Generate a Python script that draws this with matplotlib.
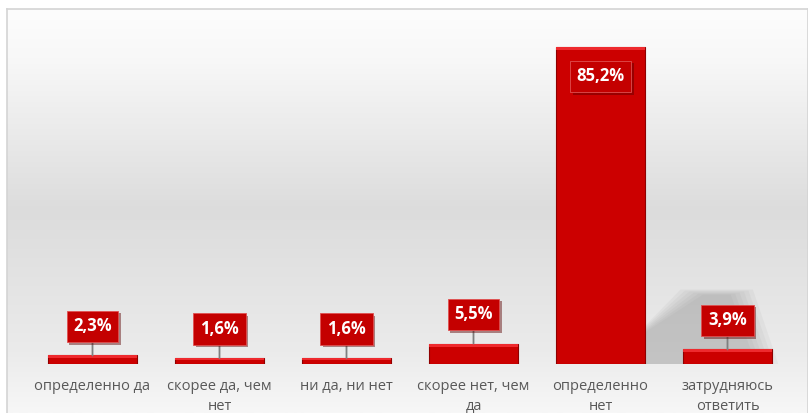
import numpy as np
import matplotlib
matplotlib.use("Agg")
import matplotlib.pyplot as plt
from matplotlib.colors import LinearSegmentedColormap
from matplotlib.patches import Polygon
import matplotlib.patheffects as pe

categories = ["определенно да", "скорее да, чем\nнет", "ни да, ни нет",
              "скорее нет, чем\nда", "определенно\nнет", "затрудняюсь\nответить"]
values = [2.3, 1.6, 1.6, 5.5, 85.2, 3.9]
labels = ["2,3%", "1,6%", "1,6%", "5,5%", "85,2%", "3,9%"]

W, H = 808, 413
fig = plt.figure(figsize=(W / 100, H / 100), dpi=100)

# background panel with soft gradient (white top, grey middle, lighter bottom)
bg = fig.add_axes([7 / W, 0, 801 / W, 404 / H])
bg_cmap = LinearSegmentedColormap.from_list(
    "bg", [(0, "#fdfdfd"), (0.12, "#f8f8f8"), (0.5, "#dcdcdc"),
           (0.85, "#ebebeb"), (1.0, "#f7f7f7")])
grad = np.linspace(0, 1, 256).reshape(-1, 1)
bg.imshow(grad, aspect="auto", cmap=bg_cmap, extent=[0, 1, 0, 1], origin="upper")
bg.set_xticks([])
bg.set_yticks([])
for s in bg.spines.values():
    s.set_color("#d4d4d4")
    s.set_linewidth(1.2)
bg.spines["bottom"].set_visible(False)

# main axes: baseline at y=364 px, 3.72 px per percent
ymax = 90
ax = fig.add_axes([29 / W, (H - 364) / H, 762 / W, ymax * 3.72 / H])
ax.set_xlim(-0.5, 5.5)
ax.set_ylim(0, ymax)
ax.patch.set_alpha(0)
for s in ax.spines.values():
    s.set_visible(False)
ax.set_yticks([])

x = np.arange(len(values))
bw = 0.70

# soft shadow cast by the tallest bar
imax = int(np.argmax(values))
xr = x[imax] + bw / 2
vmax = values[imax]
for k in range(6):
    d = 0.035 * k
    shadow = Polygon([(xr, 0), (xr, vmax * 0.12 - d * 10), (xr + 0.28 + d, vmax * 0.235 - d * 8),
                      (xr + 0.85 - d, vmax * 0.235 - d * 8), (xr + 1.05 - d, 0)],
                     closed=True, facecolor="#808080", edgecolor="none", alpha=0.07, zorder=1)
    ax.add_patch(shadow)

ax.bar(x, values, width=bw, color="#cc0000", edgecolor="#8f0000",
       linewidth=0.8, zorder=2)
# bevel highlight at the top of each bar
for xi, v in zip(x, values):
    t = min(0.8, v * 0.3)
    ax.bar(xi, t, bottom=v - t, width=bw, color="#ee2a2e", linewidth=0, zorder=3)

for xi, v, lab in zip(x, values, labels):
    if v > 50:
        off = -21
        arrow = None
    else:
        off = 21
        arrow = dict(arrowstyle="-", color="#7f7f7f", lw=1.3, shrinkA=0, shrinkB=0)
    ann = ax.annotate(lab, xy=(xi, v), xytext=(0, off), textcoords="offset points",
                      ha="center", va="center", fontsize=12, fontweight="bold",
                      color="white", family="Open Sans",
                      bbox=dict(boxstyle="square,pad=0.4", fc="#c40000", ec="#e05050", lw=0.6),
                      arrowprops=arrow, zorder=5)
    ann.get_bbox_patch().set_path_effects(
        [pe.SimplePatchShadow(offset=(2, -2), shadow_rgbFace="#5a0000", alpha=0.45),
         pe.Normal()])

ax.set_xticks(x)
ax.set_xticklabels(categories, fontsize=10.5, color="#595959", family="Open Sans",
                   linespacing=1.4)
ax.tick_params(axis="x", length=0, pad=11)

fig.savefig("out.png", dpi=100)
